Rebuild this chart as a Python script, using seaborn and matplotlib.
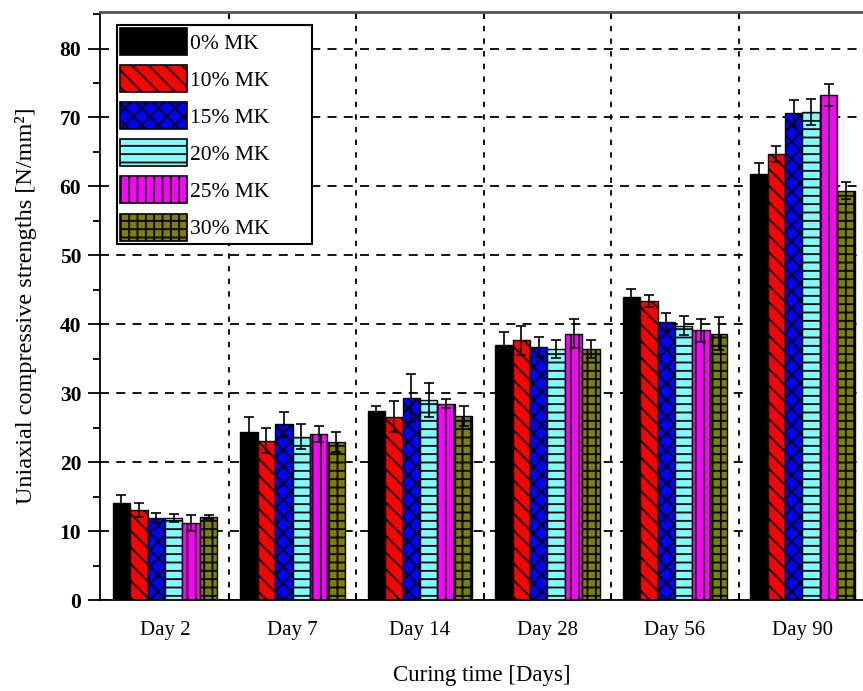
import numpy as np
import pandas as pd
import matplotlib
matplotlib.use("Agg")
import matplotlib.pyplot as plt
import matplotlib.patches as mpatches
from matplotlib.ticker import MultipleLocator, FixedLocator
import seaborn as sns

# Curing ages and metakaolin replacement levels
days = ["Day 2", "Day 7", "Day 14", "Day 28", "Day 56", "Day 90"]
mixes = ["0% MK", "10% MK", "15% MK", "20% MK", "25% MK", "30% MK"]

# Mean uniaxial compressive strength [N/mm²] per mix, one value per age
mean_0 = [14.1, 24.4, 27.4, 37.0, 43.9, 61.8]
mean_10 = [13.1, 23.1, 26.6, 37.7, 43.4, 64.7]
mean_15 = [11.9, 25.5, 29.3, 36.7, 40.4, 70.6]
mean_20 = [11.9, 23.7, 29.0, 36.4, 39.8, 70.8]
mean_25 = [11.2, 24.1, 28.5, 38.6, 39.1, 73.3]
mean_30 = [12.0, 22.9, 26.7, 36.4, 38.6, 59.4]

# Standard deviations
err_0 = [1.1, 2.1, 0.8, 1.9, 1.2, 1.6]
err_10 = [1.0, 1.8, 2.3, 2.1, 0.9, 1.1]
err_15 = [0.7, 1.8, 3.5, 1.4, 1.3, 1.9]
err_20 = [0.6, 1.8, 2.5, 1.3, 1.4, 1.9]
err_25 = [1.2, 1.2, 0.6, 2.1, 1.6, 1.6]
err_30 = [0.3, 1.5, 1.5, 1.3, 2.4, 1.2]

means = [mean_0, mean_10, mean_15, mean_20, mean_25, mean_30]
errs = [err_0, err_10, err_15, err_20, err_25, err_30]

colors = ["#000000", "#ff0000", "#0000ff", "#80ffff", "#ff00ff", "#808000"]
hatches = ["", "\\\\", "xx", "--", "||", "++"]

df = pd.DataFrame(
    [(d, m, v) for m, vals in zip(mixes, means) for d, v in zip(days, vals)],
    columns=["day", "mix", "strength"],
)

sns.set_style("ticks")
plt.rcParams["font.family"] = ["Liberation Serif", "DejaVu Serif"]
plt.rcParams["text.color"] = "black"
plt.rcParams["axes.labelcolor"] = "black"
plt.rcParams["xtick.color"] = "black"
plt.rcParams["ytick.color"] = "black"
plt.rcParams["hatch.color"] = "black"
plt.rcParams["hatch.linewidth"] = 1.3

fig = plt.figure(figsize=(8.63, 6.91), dpi=100)
ax = fig.add_axes([100 / 863, 91 / 691, 763 / 863, 588 / 691])

sns.barplot(
    data=df, x="day", y="strength", hue="mix",
    order=days, hue_order=mixes, palette=colors,
    errorbar=None, width=0.82, saturation=1,
    edgecolor="black", linewidth=1.0, legend=False, ax=ax,
)

for cont, hatch, err in zip(ax.containers, hatches, errs):
    xs, ys = [], []
    for bar in cont:
        bar.set_hatch(hatch)
        xs.append(bar.get_x() + bar.get_width() / 2)
        ys.append(bar.get_height())
    ax.errorbar(xs, ys, yerr=err, fmt="none", ecolor="black",
                elinewidth=1.2, capsize=3.5, capthick=1.2, zorder=4)

ax.set_xlim(-0.51, 5.475)
ax.set_ylim(0, 85.3)

ax.yaxis.set_major_locator(MultipleLocator(10))
ax.yaxis.set_minor_locator(MultipleLocator(5))
ax.xaxis.set_minor_locator(FixedLocator([0.5, 1.5, 2.5, 3.5, 4.5]))

ax.set_axisbelow(True)
ax.grid(which="major", axis="y", color="black", linestyle=(0, (5, 4)), linewidth=1.3)
ax.grid(which="minor", axis="x", color="black", linestyle=(0, (3, 4)), linewidth=1.3)
ax.grid(which="major", axis="x", visible=False)

ax.tick_params(axis="y", which="major", direction="out", length=8.5, width=1.3,
               labelsize=15.5, pad=5)
ax.tick_params(axis="y", which="minor", direction="out", length=5, width=1.3)
ax.tick_params(axis="x", which="major", length=0, labelsize=15, pad=15)
ax.tick_params(axis="x", which="minor", direction="in", length=5, width=1.3,
               top=True, bottom=True)
for lab in ax.get_yticklabels():
    lab.set_fontweight("bold")

ax.set_xlabel("Curing time [Days]", fontsize=16.5, labelpad=18)
ax.set_ylabel("Uniaxial compressive strengths [N/mm²]", fontsize=17.5, labelpad=16)

for side in ["left", "bottom"]:
    ax.spines[side].set_color("black")
    ax.spines[side].set_linewidth(1.3)
ax.spines["top"].set_color("#555555")
ax.spines["top"].set_linewidth(2.0)
ax.spines["right"].set_visible(False)

handles = [
    mpatches.Patch(facecolor=c, edgecolor="black", hatch=h, linewidth=1.2)
    for c, h in zip(colors, hatches)
]
leg = ax.legend(
    handles, mixes, loc="upper left", bbox_to_anchor=(0.0223, 0.0, 0.2556, 0.978),
    mode="expand", borderaxespad=0, fontsize=15.5, handlelength=3.1,
    handleheight=1.55, labelspacing=0.47, handletextpad=0.15, borderpad=0.15,
    frameon=True, fancybox=False, framealpha=1,
)
leg.get_frame().set_edgecolor("black")
leg.get_frame().set_linewidth(1.5)

fig.savefig("out.png", dpi=100)
